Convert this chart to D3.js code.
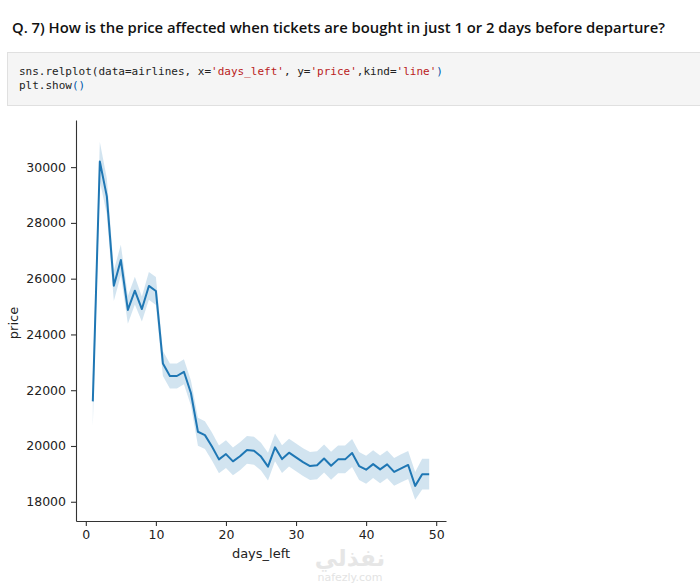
<!DOCTYPE html>
<html>
<head>
<meta charset="utf-8">
<script src="https://cdn.jsdelivr.net/npm/d3@7"></script>
<style>
  body { margin: 0; background: #fff; }
  svg { display: block; }
</style>
</head>
<body>
<script>
const [svgWidth, svgHeight] = [700, 585]

// days_left values and mean price
const days = [
  1, 2, 3, 4, 5, 6, 7, 8, 9, 10,
  11, 12, 13, 14, 15, 16, 17, 18, 19, 20,
  21, 22, 23, 24, 25, 26, 27, 28, 29, 30,
  31, 32, 33, 34, 35, 36, 37, 38, 39, 40,
  41, 42, 43, 44, 45, 46, 47, 48, 49
];
const price = [
  21600, 30200, 28950, 25750, 26670, 24880, 25570, 24910, 25740, 25560,
  22960, 22510, 22510, 22660, 21900, 20510, 20390, 19980, 19520, 19710,
  19450, 19630, 19860, 19830, 19620, 19260, 19950, 19530, 19760, 19590,
  19420, 19280, 19310, 19550, 19290, 19520, 19520, 19750, 19280, 19150,
  19350, 19160, 19340, 19070, 19200, 19320, 18570, 18990, 18990
];
// half width of the 95% confidence band
const ciHalf = [
  900, 700, 650, 550, 550, 500, 500, 450, 500, 500,
  450, 450, 450, 450, 450, 500, 500, 500, 500, 500,
  500, 500, 500, 500, 500, 500, 500, 500, 500, 500,
  500, 500, 500, 500, 500, 500, 500, 500, 500, 500,
  500, 500, 500, 500, 500, 500, 500, 550, 550
];
const xTicks = [0, 10, 20, 30, 40, 50];
const yTicks = [18000, 20000, 22000, 24000, 26000, 28000, 30000];

const title = "Q. 7) How is the price affected when tickets are bought in just 1 or 2 days before departure?";

const svg = d3.select('body')
  .append('svg')
  .attr("width", svgWidth)
  .attr("height", svgHeight);

// heading
svg.append("text")
  .attr("x", 12)
  .attr("y", 33)
  .attr("font-family", "'Open Sans', 'Noto Sans', sans-serif")
  .attr("font-weight", 600)
  .attr("font-size", "15px")
  .attr("textLength", 653)
  .attr("lengthAdjust", "spacingAndGlyphs")
  .attr("fill", "#111")
  .text(title);

// code cell
svg.append("rect")
  .attr("x", 7.5).attr("y", 52.5)
  .attr("width", 700).attr("height", 53)
  .attr("fill", "#f5f5f5")
  .attr("stroke", "#e0e0e0");

const codeLines = [
  [["sns.relplot(data=airlines, x=", "#222"], ["'days_left'", "#ba2121"], [", y=", "#222"],
   ["'price'", "#ba2121"], [",kind=", "#222"], ["'line'", "#ba2121"], [")", "#0055aa"]],
  [["plt.show", "#222"], ["()", "#0055aa"]]
];
codeLines.forEach((parts, i) => {
  const t = svg.append("text")
    .attr("x", 19)
    .attr("y", 75 + i * 14)
    .attr("font-family", "'DejaVu Sans Mono', 'Liberation Mono', monospace")
    .attr("font-size", "11px")
    .attr("xml:space", "preserve");
  parts.forEach(p => t.append("tspan").attr("fill", p[1]).text(p[0]));
});

// plot area
const x = d3.scaleLinear().domain([-1.4, 51.4]).range([76, 446]);
const y = d3.scaleLinear().domain([17310, 31690]).range([521, 120]);

const rows = days.map((d, i) => ({ d, p: price[i], lo: price[i] - ciHalf[i], hi: price[i] + ciHalf[i] }));

svg.append("path")
  .datum(rows)
  .attr("fill", "#1f77b4")
  .attr("fill-opacity", 0.2)
  .attr("d", d3.area().x(r => x(r.d)).y0(r => y(r.lo)).y1(r => y(r.hi)));

svg.append("path")
  .datum(rows)
  .attr("fill", "none")
  .attr("stroke", "#1f77b4")
  .attr("stroke-width", 2)
  .attr("stroke-linejoin", "round")
  .attr("d", d3.line().x(r => x(r.d)).y(r => y(r.p)));

// axes
const xAxis = svg.append("g")
  .attr("transform", "translate(0,521)")
  .call(d3.axisBottom(x).tickValues(xTicks).tickSize(5).tickPadding(4).tickSizeOuter(0));
const yAxis = svg.append("g")
  .attr("transform", "translate(76,0)")
  .call(d3.axisLeft(y).tickValues(yTicks).tickFormat(d3.format("d")).tickSize(5).tickPadding(5).tickSizeOuter(0));

[xAxis, yAxis].forEach(g => {
  g.selectAll("path, line").attr("stroke", "#333").attr("stroke-width", 1.1);
  g.selectAll("text")
    .attr("font-family", "'DejaVu Sans', sans-serif")
    .attr("font-size", "12.5px")
    .attr("fill", "#222");
});

svg.append("text")
  .attr("x", 261).attr("y", 558)
  .attr("text-anchor", "middle")
  .attr("font-family", "'DejaVu Sans', sans-serif")
  .attr("font-size", "13px")
  .attr("fill", "#222")
  .text("days_left");

svg.append("text")
  .attr("transform", "translate(18,323) rotate(-90)")
  .attr("text-anchor", "middle")
  .attr("font-family", "'DejaVu Sans', sans-serif")
  .attr("font-size", "13px")
  .attr("fill", "#222")
  .text("price");

// watermark
svg.append("text")
  .attr("x", 350).attr("y", 566)
  .attr("text-anchor", "middle")
  .attr("font-family", "'DejaVu Sans', sans-serif")
  .attr("font-weight", "bold")
  .attr("font-size", "23px")
  .attr("fill", "#e6e6e6")
  .text("نفذلي");
svg.append("text")
  .attr("x", 350).attr("y", 581)
  .attr("text-anchor", "middle")
  .attr("font-family", "'DejaVu Sans', sans-serif")
  .attr("font-size", "11px")
  .attr("fill", "#e3e3e3")
  .text("nafezly.com");
</script>
</body>
</html>
